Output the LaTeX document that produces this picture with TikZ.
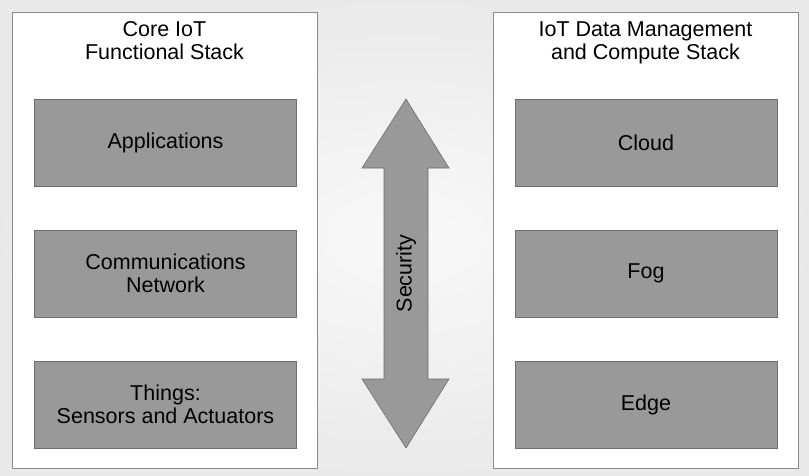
\documentclass[tikz,border=0pt]{standalone}
\usepackage{fontspec}
\setmainfont{Liberation Sans}
\definecolor{boxgray}{HTML}{999999}
\definecolor{edgegray}{HTML}{6E6E6E}
\definecolor{framegray}{HTML}{8A8A8A}
\begin{document}
\begin{tikzpicture}[x=1pt,y=-1pt,
  lbl/.style={font=\fontsize{21.5}{23.5}\selectfont, text=black, inner sep=0pt},
  panel/.style={draw=framegray, fill=white, line width=0.8pt},
  layer/.style={draw=edgegray, fill=boxgray, line width=0.8pt, minimum width=262pt, minimum height=87pt, inner sep=0pt, align=center, font=\fontsize{21.5}{23.5}\selectfont},
  bigarrow/.style={draw=edgegray, fill=boxgray, line width=0.6pt, line join=miter}]
\useasboundingbox (0,0) rectangle (809,475);
\shade[inner color=white!95!gray, outer color=gray!17] (0,0) rectangle (809,475);
% panels
\draw[panel] (12,12) rectangle (317,468);
\draw[panel] (493,12) rectangle (798,468);
% titles
\node[lbl, anchor=base] (t1a) at (164.5,36) {Core IoT};
\node[lbl, anchor=base] (t1b) at (164.5,59.5) {Functional Stack};
\node[lbl, anchor=base] (t2a) at (645.5,36) {IoT Data Management};
\node[lbl, anchor=base] (t2b) at (645.5,59.5) {and Compute Stack};
% left stack
\node[layer] (app) at (165.5,142.5) {Applications};
\node[layer] (net) at (165.5,273.5) {Communications\\Network};
\node[layer] (thg) at (165.5,404.5) {Things:\\Sensors and Actuators};
% right stack
\node[layer] (cld) at (646,142.5) {Cloud};
\node[layer] (fog) at (646,273.5) {Fog};
\node[layer] (edg) at (646,404.5) {Edge};
% double arrow
\draw[bigarrow] (406,99) -- (449,168) -- (428,168) -- (428,379) -- (449,379)
  -- (406,448) -- (362,379) -- (384,379) -- (384,168) -- (362,168) -- cycle;
\node[lbl, rotate=90] (sec) at (406,273.5) {Security};
\end{tikzpicture}
\end{document}
